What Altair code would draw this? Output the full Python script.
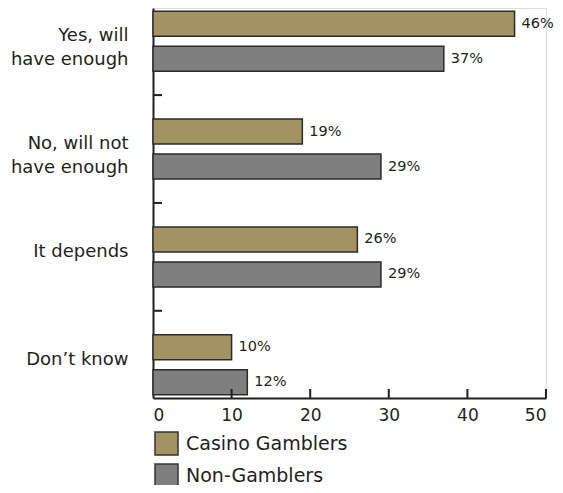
import altair as alt
import pandas as pd

categories = ["Yes, will\nhave enough", "No, will not\nhave enough", "It depends", "Don’t know"]
series = ["Casino Gamblers", "Non-Gamblers"]
casino = [46, 19, 26, 10]
non_gamblers = [37, 29, 29, 12]
colors = ["#A39262", "#7F7F80"]
x_ticks = [0, 10, 20, 30, 40, 50]

rows = []
for c, a, b in zip(categories, casino, non_gamblers):
    rows.append({"cat": c, "series": series[0], "v": a, "label": f"{a}%"})
    rows.append({"cat": c, "series": series[1], "v": b, "label": f"{b}%"})
df = pd.DataFrame(rows)
sep_df = pd.DataFrame({"cat": categories[1:]})
tick_df = pd.DataFrame({"t": x_ticks[1:]})

W, H = 393, 390
FONT = "DejaVu Sans"
INK = "#231f20"

y_enc = alt.Y(
    "cat:N",
    sort=categories,
    scale=alt.Scale(paddingInner=0.444, paddingOuter=0.03),
    axis=alt.Axis(
        title=None, ticks=False, labelExpr="split(datum.label, '\\n')",
        labelFontSize=18, labelLineHeight=24, labelPadding=25, labelOffset=-5,
        labelColor=INK, labelFont=FONT, domainColor=INK, domainWidth=2,
        labelLimit=300,
    ),
)
x_enc = alt.X(
    "v:Q",
    scale=alt.Scale(domain=[0, 50], nice=False),
    axis=alt.Axis(
        title=None, values=x_ticks, ticks=False, grid=False, labelFontSize=17,
        labelPadding=9, labelColor=INK, labelFont=FONT, domainColor=INK,
        domainWidth=2,
    ),
)
yoff = alt.YOffset("series:N", sort=series, scale=alt.Scale(paddingInner=0.286, paddingOuter=0))

bars = alt.Chart(df).mark_bar(stroke="#2b2b2b", strokeWidth=1.5).encode(
    x=x_enc,
    y=y_enc,
    yOffset=yoff,
    color=alt.Color(
        "series:N", sort=series,
        scale=alt.Scale(domain=series, range=colors),
        legend=alt.Legend(
            title=None, orient="none", legendX=1, legendY=423, direction="vertical",
            symbolType="square", symbolSize=529, symbolStrokeColor="#333333",
            symbolStrokeWidth=1.5, labelFontSize=19, labelFont=FONT, labelColor=INK,
            labelOffset=7, rowPadding=3, symbolOpacity=1, labelLimit=400,
        ),
    ),
)

texts = alt.Chart(df).mark_text(align="left", dx=7, fontSize=14.5, font=FONT, color=INK).encode(
    x="v:Q",
    y=alt.Y("cat:N", sort=categories),
    yOffset=alt.YOffset("series:N", sort=series),
    text="label:N",
)

seps = alt.Chart(sep_df).mark_rule(color=INK, strokeWidth=2, yOffset=-24).encode(
    y=alt.Y("cat:N", sort=categories, bandPosition=0),
    x=alt.value(0),
    x2=alt.value(9),
)

xticks = alt.Chart(tick_df).mark_rule(color=INK, strokeWidth=2).encode(
    x="t:Q",
    y=alt.value(H),
    y2=alt.value(H - 9),
)

chart = alt.layer(bars, texts, seps, xticks).properties(
    width=W, height=H,
    autosize=alt.AutoSizeParams(type="none"),
    padding={"left": 145, "top": 0, "right": 9, "bottom": 87},
).configure_view(stroke=None).configure(font=FONT, background="white")

chart.save("out.html", embed_options={"renderer": "svg", "actions": False})
